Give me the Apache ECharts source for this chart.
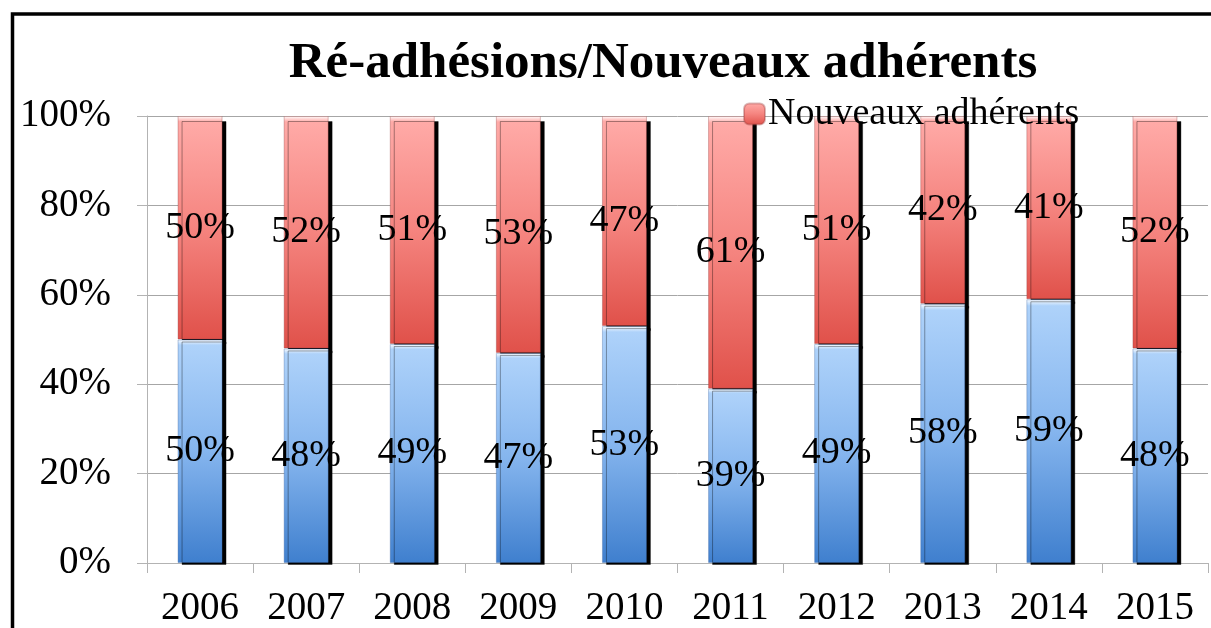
<!DOCTYPE html>
<html>
<head>
<meta charset="utf-8">
<script src="https://cdn.jsdelivr.net/npm/echarts@6/dist/echarts.min.js"></script>
<style>
  html, body { margin: 0; padding: 0; background: #fff; }
  #main { width: 1211px; height: 628px; }
</style>
</head>
<body>
<div id="main"></div>
<script>
// années
var years = ['2006', '2007', '2008', '2009', '2010', '2011', '2012', '2013', '2014', '2015'];
// parts en %
var readhesions = [50, 48, 49, 47, 53, 39, 49, 58, 59, 48];
var nouveaux = [50, 52, 51, 53, 47, 61, 51, 42, 41, 52];
var yTicks = [0, 20, 40, 60, 80, 100];

var font = 'Liberation Serif';

function grad(top, mid, bottom) {
    return {
        type: 'linear', x: 0, y: 0, x2: 0, y2: 1,
        colorStops: [
            { offset: 0, color: '#ffffff' },
            { offset: 0.025, color: top },
            { offset: 0.5, color: mid },
            { offset: 1, color: bottom }
        ]
    };
}

var myChart = echarts.init(document.getElementById('main'));
myChart.setOption({
    animation: false,
    title: {
        text: 'Ré-adhésions/Nouveaux adhérents',
        left: 658,
        textAlign: 'center',
        top: 33,
        textStyle: { fontFamily: font, fontWeight: 'bold', fontSize: 51, color: '#000' }
    },
    legend: {
        data: ['Nouveaux adhérents'],
        left: 738,
        top: 90,
        itemWidth: 21,
        itemHeight: 21,
        itemGap: 10,
        textStyle: { fontFamily: font, fontSize: 38, color: '#000', padding: [0, 0, 0, -2] }
    },
    grid: { left: 147, right: 3, top: 116, bottom: 65 },
    xAxis: {
        type: 'category',
        data: years,
        axisLine: { lineStyle: { color: '#b3b3b3', width: 1 } },
        axisTick: { show: true, length: 10, lineStyle: { color: '#b3b3b3' } },
        axisLabel: { fontFamily: font, fontSize: 39, color: '#000', margin: 26 }
    },
    yAxis: {
        type: 'value',
        min: 0,
        max: 100,
        interval: 20,
        axisLine: { show: true, lineStyle: { color: '#b3b3b3' } },
        axisTick: { show: true, length: 10, lineStyle: { color: '#b3b3b3' } },
        splitLine: { lineStyle: { color: '#a6a6a6' } },
        axisLabel: {
            fontFamily: font, fontSize: 39, color: '#000', margin: 36,
            formatter: function (v) { return yTicks.indexOf(v) >= 0 ? v + '%' : ''; }
        }
    },
    graphic: [{
        type: 'rect',
        shape: { x: 12.5, y: 14, width: 1400, height: 800 },
        style: { fill: 'none', stroke: '#000', lineWidth: 3.5 },
        silent: true,
        z: 100
    }],
    series: [
        {
            name: 'Ré-adhésions',
            type: 'bar',
            stack: 'total',
            barWidth: 45,
            z: 3,
            data: readhesions,
            itemStyle: {
                color: grad('#aed2fa', '#85b5ee', '#3f7fce'),
                borderColor: 'rgba(60,100,160,0.35)',
                borderWidth: 1,
                shadowColor: '#000',
                shadowBlur: 0,
                shadowOffsetX: 4,
                shadowOffsetY: 2
            },
            label: {
                show: true,
                position: 'inside',
                formatter: '{c}%',
                fontFamily: font,
                fontSize: 38,
                color: '#000'
            }
        },
        {
            name: 'Nouveaux adhérents',
            type: 'bar',
            stack: 'total',
            barWidth: 45,
            z: 2,
            data: nouveaux,
            itemStyle: {
                color: grad('#ffaaa7', '#f5847f', '#e0514a'),
                borderColor: 'rgba(150,60,60,0.35)',
                borderWidth: 1,
                shadowColor: '#000',
                shadowBlur: 0,
                shadowOffsetX: 4,
                shadowOffsetY: 5
            },
            label: {
                show: true,
                position: 'inside',
                formatter: '{c}%',
                fontFamily: font,
                fontSize: 38,
                color: '#000'
            }
        }
    ]
});
window.onresize = myChart.resize;
</script>
</body>
</html>
